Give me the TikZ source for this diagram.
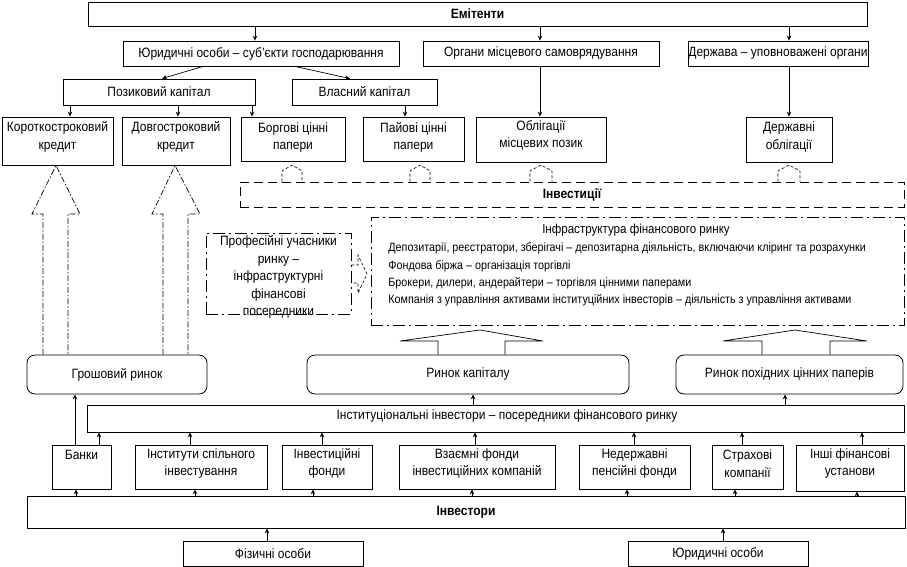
\documentclass[tikz,border=0pt]{standalone}
\usepackage{fontspec}
\setmainfont[FakeStretch=0.89]{Liberation Sans}
\usetikzlibrary{arrows.meta}
\newcommand\mainfs{\fontsize{13.5}{17.5}\selectfont}
\newcommand\smallfs{\fontsize{12.1}{17.3}\selectfont}
\begin{document}
\begin{tikzpicture}[x=1pt,y=-1pt,line width=0.8pt,
  box/.style={draw,inner sep=0pt,font=\mainfs},
  rbox/.style={box,rounded corners=8pt},
  txt/.style={align=center,inner sep=0pt,font=\mainfs},
  arr/.style={-{Stealth[length=5pt,width=4.5pt]},line width=0.7pt},
  dashbox/.style={draw,inner sep=0pt,dash pattern=on 9pt off 5pt},
  dotbox/.style={draw,inner sep=0pt,dash pattern=on 12pt off 4pt on 2pt off 4pt},
  bigdash/.style={line width=0.7pt,dash pattern=on 6pt off 2pt on 1.5pt off 2pt},
  house/.style={line width=0.6pt,dash pattern=on 3pt off 2pt},
  blockarr/.style={line width=0.7pt}]
\useasboundingbox (0,0) rectangle (907,567);
\fill[white] (0,0) rectangle (907,567);

% top
\node[box,minimum width=779pt,minimum height=24pt,font=\mainfs\bfseries] (emit) at (477.5,14) {Емітенти};
\node[box,minimum width=276pt,minimum height=25pt] (yur) at (261,53.5) {Юридичні особи – суб’єкти господарювання};
\node[box,minimum width=236pt,minimum height=25pt] (organy) at (541,53.5) {Органи місцевого самоврядування};
\node[box,minimum width=180pt,minimum height=25pt] (derzh) at (778,53.5) {Держава – уповноважені органи};
\node[box,minimum width=192pt,minimum height=26pt] (pozyk) at (159,92) {Позиковий капітал};
\node[box,minimum width=145pt,minimum height=26pt] (vlasn) at (364.5,92) {Власний капітал};

% row 4
\node[box,minimum width=111pt,minimum height=48pt] (krat) at (57.5,141) {};
\node[txt] (kratT) at (57.5,137) {Короткостроковий\\кредит};
\node[box,minimum width=108pt,minimum height=48pt] (dovg) at (176,141) {};
\node[txt] (dovgT) at (176,137) {Довгостроковий\\кредит};
\node[box,minimum width=104pt,minimum height=44pt] (borg) at (293,139) {};
\node[txt] (borgT) at (293,137.5) {Боргові цінні\\папери};
\node[box,minimum width=101pt,minimum height=44pt] (paiovi) at (413.5,139) {};
\node[txt] (paioviT) at (413.5,137.5) {Пайові цінні\\папери};
\node[box,minimum width=130pt,minimum height=45pt] (oblig) at (541,139.5) {};
\node[txt] (obligT) at (541,135.5) {Облігації\\місцевих позик};
\node[box,minimum width=86pt,minimum height=45pt] (derzhobl) at (789,139.5) {};
\node[txt] (derzhoblT) at (789,137) {Державні\\облігації};

% investments
\node[dashbox,minimum width=664pt,minimum height=25pt,font=\mainfs\bfseries] (invest) at (572,194.5) {Інвестиції};

% professional participants & infrastructure
\node[dotbox,minimum width=145pt,minimum height=81pt] (prof) at (278.5,273.5) {};
\node[txt] (profT) at (278.5,277) {Професійні учасники\\ринку –\\інфраструктурні\\фінансові\\посередники};
\node[dotbox,minimum width=533pt,minimum height=108pt] (infra) at (637.5,271) {};
\node[txt,font=\fontsize{13}{17}\selectfont] (infraT) at (636,230) {Інфраструктура фінансового ринку};
\node[anchor=west,inner sep=0pt,font=\smallfs] (inf1) at (388,248) {Депозитарії, реєстратори, зберігачі – депозитарна діяльність, включаючи кліринг та розрахунки};
\node[anchor=west,inner sep=0pt,font=\smallfs] (inf2) at (388,266) {Фондова біржа – організація торгівлі};
\node[anchor=west,inner sep=0pt,font=\smallfs] (inf3) at (388,283) {Брокери, дилери, андерайтери – торгівля цінними паперами};
\node[anchor=west,inner sep=0pt,font=\smallfs] (inf4) at (388,300) {Компанія з управління активами інституційних інвесторів – діяльність з управління активами};

% markets
\node[rbox,minimum width=180pt,minimum height=39pt] (hrosh) at (117,374.5) {Грошовий ринок};
\node[rbox,minimum width=322pt,minimum height=39pt] (kapit) at (468,374.5) {Ринок капіталу};
\node[rbox,minimum width=227pt,minimum height=39pt] (pokhid) at (789.5,374.5) {Ринок похідних цінних паперів};

% institutional
\node[box,minimum width=817pt,minimum height=27pt] (inst) at (495.5,418.5) {};
\node[txt] (instT) at (507,416.5) {Інституціональні інвестори – посередники фінансового ринку};

% row of institutions
\node[box,minimum width=59pt,minimum height=44pt] (banky) at (81.5,467) {};
\node[txt] (bankyT) at (81.5,455) {Банки};
\node[box,minimum width=132pt,minimum height=44pt] (isi) at (201,467) {};
\node[txt] (isiT) at (201,463.5) {Інститути спільного\\інвестування};
\node[box,minimum width=90pt,minimum height=44pt] (ifond) at (327,467) {};
\node[txt] (ifondT) at (327,463.5) {Інвестиційні\\фонди};
\node[box,minimum width=156pt,minimum height=44pt] (vzaim) at (477,467) {};
\node[txt] (vzaimT) at (477,463.5) {Взаємні фонди\\інвестиційних компаній};
\node[box,minimum width=111pt,minimum height=44pt] (npf) at (634.5,467) {};
\node[txt] (npfT) at (634.5,463.5) {Недержавні\\пенсійні фонди};
\node[box,minimum width=71pt,minimum height=44pt] (strakh) at (747.5,467) {};
\node[txt] (strakhT) at (747.5,463.5) {Страхові\\компанії};
\node[box,minimum width=108pt,minimum height=46pt] (inshi) at (850,468) {};
\node[txt] (inshiT) at (850,463.5) {Інші фінансові\\установи};

% investors
\node[box,minimum width=878pt,minimum height=32pt,font=\mainfs\bfseries] (investors) at (466,512) {Інвестори};
\node[box,minimum width=180pt,minimum height=25pt] (fiz) at (273,553.5) {Фізичні особи};
\node[box,minimum width=180pt,minimum height=25pt] (yur2) at (718,553.5) {Юридичні особи};

% arrows top
\draw[arr] (emit.south -| 255,0) -- (yur.north -| 255,0);
\draw[arr] (emit.south -| 540,0) -- (organy.north -| 540,0);
\draw[arr] (emit.south -| 789,0) -- (derzh.north -| 789,0);
\draw[arr] (yur.south -| 203,0) -- (pozyk.north -| 162,0);
\draw[arr] (yur.south -| 295,0) -- (vlasn.north -| 350,0);
\draw[arr] (pozyk.south -| 70,0) -- (krat.north -| 70,0);
\draw[arr] (pozyk.south -| 178,0) -- (dovg.north -| 178,0);
\draw[arr] (pozyk.south -| 252,0) -- (borg.north -| 252,0);
\draw[arr] (vlasn.south -| 405,0) -- (paiovi.north -| 405,0);
\draw[arr] (organy.south -| 540,0) -- (oblig.north -| 540,0);
\draw[arr] (derzh.south -| 789,0) -- (derzhobl.north -| 789,0);

% small houses
\draw[house] (invest.north -| 282,0) -- (282,171) -- (292,165) -- (302,171) -- (invest.north -| 302,0);
\draw[house] (invest.north -| 410,0) -- (410,171) -- (420,165) -- (430,171) -- (invest.north -| 430,0);
\draw[house] (invest.north -| 530,0) -- (530,171) -- (541,165) -- (552,171) -- (invest.north -| 552,0);
\draw[house] (invest.north -| 778,0) -- (778,171) -- (789,165) -- (800,171) -- (invest.north -| 800,0);

% big dashed arrows
\draw[bigdash] (hrosh.north -| 43,0) -- (43,214) -- (32,214) -- (krat.south -| 56,0) -- (80,214) -- (68,214) -- (hrosh.north -| 68,0);
\draw[bigdash] (hrosh.north -| 163,0) -- (163,214) -- (152,214) -- (dovg.south -| 175,0) -- (200,214) -- (188,214) -- (hrosh.north -| 188,0);

% prof -> infra
\draw[house] (prof.east |- 0,265) -- (358,265) -- (358,255) -- (367,274) -- (358,293) -- (358,283) -- (prof.east |- 0,283);

% infra -> markets
\draw[blockarr] (kapit.north -| 438,0) -- (438,341) -- (400,341) -- (480,330) -- (543,341) -- (505,341) -- (kapit.north -| 505,0);
\draw[blockarr] (pokhid.north -| 762,0) -- (762,341) -- (723,341) -- (795,330) -- (867,341) -- (830,341) -- (pokhid.north -| 830,0);

% institutional -> markets
\draw[arr] (banky.north -| 75,0) -- (hrosh.south -| 75,0);
\draw[arr] (inst.north -| 473,0) -- (kapit.south -| 473,0);
\draw[arr] (inst.north -| 785,0) -- (pokhid.south -| 785,0);

% row -> inst
\draw[arr] (banky.north -| 99,0) -- (inst.south -| 99,0);
\draw[arr] (isi.north -| 190,0) -- (inst.south -| 190,0);
\draw[arr] (ifond.north -| 322,0) -- (inst.south -| 322,0);
\draw[arr] (vzaim.north -| 475,0) -- (inst.south -| 475,0);
\draw[arr] (npf.north -| 634,0) -- (inst.south -| 634,0);
\draw[arr] (strakh.north -| 742,0) -- (inst.south -| 742,0);
\draw[arr] (inshi.north -| 862,0) -- (inst.south -| 862,0);

% investors -> row
\draw[arr] (investors.north -| 76,0) -- (banky.south -| 76,0);
\draw[arr] (investors.north -| 195,0) -- (isi.south -| 195,0);
\draw[arr] (investors.north -| 313,0) -- (ifond.south -| 313,0);
\draw[arr] (investors.north -| 472,0) -- (vzaim.south -| 472,0);
\draw[arr] (investors.north -| 627,0) -- (npf.south -| 627,0);
\draw[arr] (investors.north -| 735,0) -- (strakh.south -| 735,0);
\draw[arr] (investors.north -| 857,0) -- (inshi.south -| 857,0);

% bottom
\draw[arr] (fiz.north -| 267,0) -- (investors.south -| 267,0);
\draw[arr] (yur2.north -| 723,0) -- (investors.south -| 723,0);
\end{tikzpicture}
\end{document}
